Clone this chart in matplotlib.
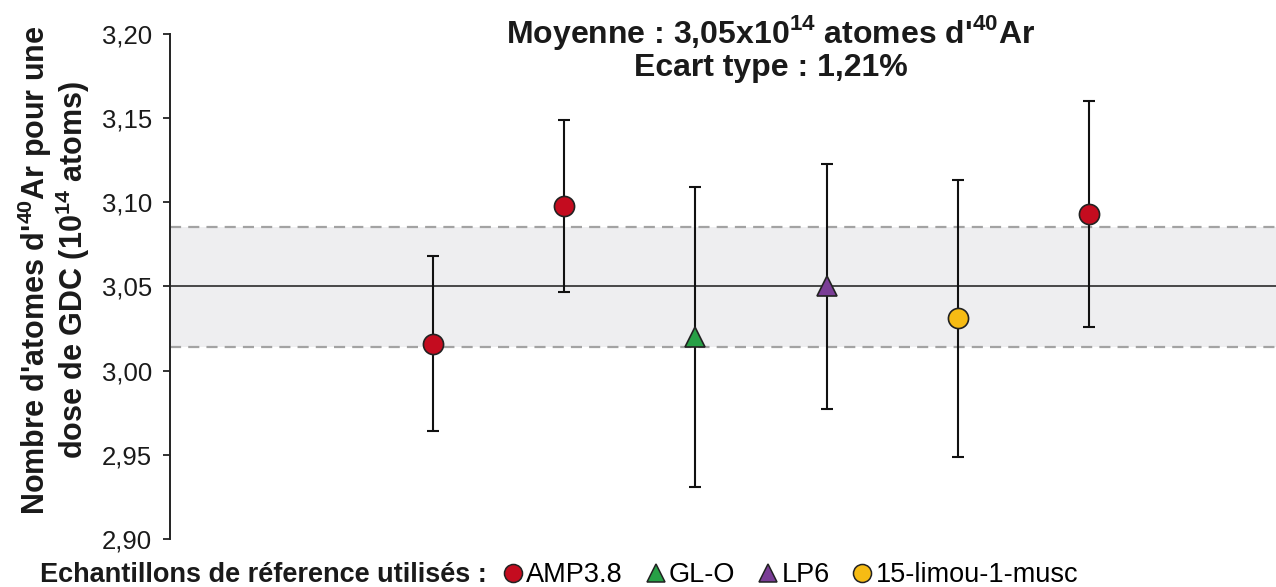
import numpy as np
import matplotlib
matplotlib.use('Agg')
import matplotlib.pyplot as plt
from matplotlib.lines import Line2D

plt.rcParams['font.family'] = ['Liberation Sans', 'DejaVu Sans']
plt.rcParams['mathtext.fontset'] = 'custom'
plt.rcParams['mathtext.rm'] = 'Liberation Sans'
plt.rcParams['mathtext.bf'] = 'Liberation Sans:bold'

# data
samples = ['AMP3.8', 'AMP3.8', 'GL-O', 'LP6', '15-limou-1-musc', 'AMP3.8']
values = [3.016, 3.098, 3.020, 3.050, 3.031, 3.093]
errors = [0.052, 0.051, 0.089, 0.073, 0.082, 0.067]
mean_val = 3.05
band_low = 3.0142
band_high = 3.0855
yticks = [2.90, 2.95, 3.00, 3.05, 3.10, 3.15, 3.20]

styles = {
    'AMP3.8': ('o', '#c40c1f'),
    'GL-O': ('^', '#27a046'),
    'LP6': ('^', '#7a3d96'),
    '15-limou-1-musc': ('o', '#f6bb14'),
}
legend_order = ['AMP3.8', 'GL-O', 'LP6', '15-limou-1-musc']

fig = plt.figure(figsize=(12.76, 5.87), dpi=100)
ax = fig.add_axes([170/1276, 48/587, 1106/1276, 505/587])

x = np.arange(1, len(values) + 1)

ax.axhspan(band_low, band_high, color='#eeeef0', zorder=0, lw=0)
ax.axhline(band_low, color='#a3a3a3', lw=1.6, ls=(0, (5, 3.2)), zorder=1)
ax.axhline(band_high, color='#a3a3a3', lw=1.6, ls=(0, (5, 3.2)), zorder=1)
ax.axhline(mean_val, color='#1a1a1a', lw=1.1, zorder=2)

for xi, v, e, s in zip(x, values, errors, samples):
    m, c = styles[s]
    ax.errorbar(xi, v, yerr=e, fmt='none', ecolor='#111111', elinewidth=1.5,
                capsize=4, capthick=1.5, zorder=3)
    ax.plot(xi, v, marker=m, ms=14.5, mfc=c, mec='#222222',
            mew=1.2, ls='none', zorder=4)

ax.set_xlim(-1.005, 7.425)
ax.set_ylim(2.90, 3.20)
ax.set_yticks(yticks)
ax.set_yticklabels([('%.2f' % t).replace('.', ',') for t in yticks], fontsize=18.5, color='#1a1a1a')
ax.tick_params(axis='y', length=5, width=1.3, pad=8, color='#222222')
ax.set_xticks([])
for sp in ['top', 'right', 'bottom']:
    ax.spines[sp].set_visible(False)
ax.spines['left'].set_linewidth(1.4)
ax.spines['left'].set_color('#222222')

ax.set_ylabel("Nombre d'atomes d'$^{\\mathbf{40}}$Ar pour une\ndose de GDC (10$^{\\mathbf{14}}$ atoms)",
              fontsize=22, fontweight='bold', color='#1a1a1a', linespacing=1.0)
ax.yaxis.set_label_coords(-0.0705, 0.533)

fig.text(771/1276, 1 - 33/587, "Moyenne : 3,05x10$^{\\mathbf{14}}$ atomes d'$^{\\mathbf{40}}$Ar",
         ha='center', va='center', fontsize=23, fontweight='bold', color='#1a1a1a')
fig.text(771/1276, 1 - 68/587, "Ecart type : 1,21%",
         ha='center', va='center', fontsize=23, fontweight='bold', color='#1a1a1a')

fig.text(40/1276, 1 - 575/587, "Echantillons de réference utilisés :",
         ha='left', va='center', fontsize=19.5, fontweight='bold', color='#1a1a1a')

handles = []
for s in legend_order:
    m, c = styles[s]
    handles.append(Line2D([], [], marker=m, ls='none', ms=13, mfc=c, mec='#222222', mew=1.1))
fig.legend(handles, legend_order, loc='center left', bbox_to_anchor=(502/1276, 1 - 575/587),
           ncol=4, frameon=False, fontsize=19.5, handlelength=0.8, handletextpad=0.1,
           columnspacing=0.8, borderpad=0, borderaxespad=0)

fig.savefig('out.png', dpi=100)
